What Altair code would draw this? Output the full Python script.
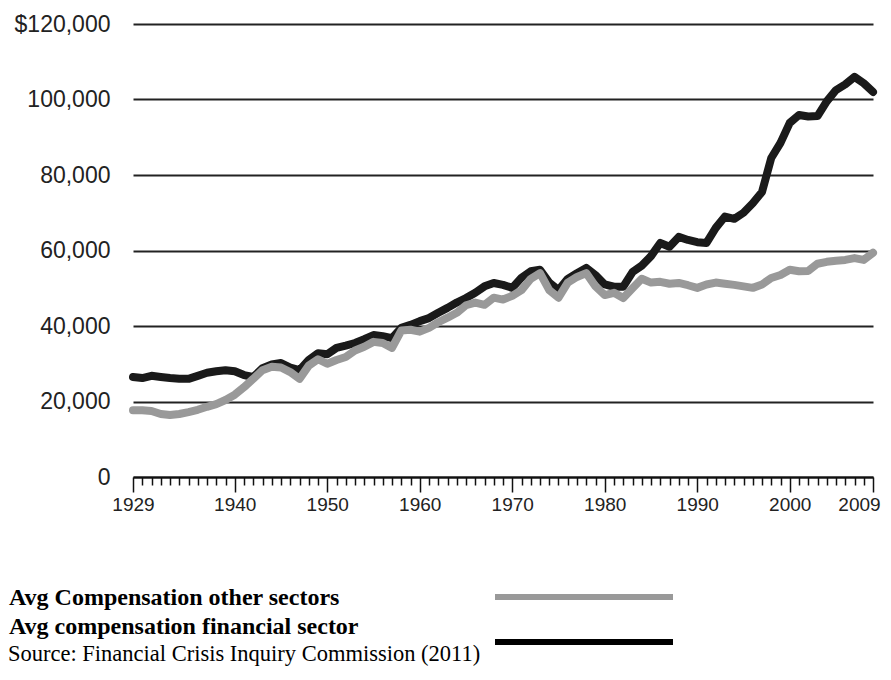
import altair as alt
import pandas as pd

years = list(range(1929, 2010))

financial = [
    26500, 26200, 26800, 26500, 26200, 26000, 26000, 26800, 27600, 28000,   # 1929-1938
    28300, 28000, 27000, 26500, 28800, 29800, 30200, 29000, 28300, 31000,   # 1939-1948
    32800, 32500, 34200, 34800, 35500, 36500, 37600, 37300, 36800, 39500,   # 1949-1958
    40300, 41300, 42100, 43500, 44800, 46200, 47400, 48800, 50500, 51400,   # 1959-1968
    50900, 50100, 52800, 54500, 54900, 51500, 49500, 52500, 54000, 55400,   # 1969-1978
    53500, 51000, 50400, 50400, 54300, 56000, 58500, 62000, 61000, 63600,   # 1979-1988
    62800, 62200, 62000, 66000, 69000, 68400, 70000, 72500, 75500, 84500,   # 1989-1998
    88500, 93800, 95900, 95500, 95600, 99500, 102500, 104000, 106000, 104300,  # 1999-2008
    102000,                                                                 # 2009
]

other = [
    17700, 17700, 17500, 16700, 16400, 16700, 17200, 17800, 18600, 19300,   # 1929-1938
    20400, 21800, 23800, 26000, 28300, 29200, 29000, 27800, 26000, 29500,   # 1939-1948
    31200, 30000, 31000, 31800, 33500, 34500, 35800, 35500, 34200, 38800,   # 1949-1958
    39000, 38500, 39500, 41000, 42200, 43500, 45500, 46200, 45600, 47500,   # 1959-1968
    47000, 48000, 49500, 52500, 54000, 49500, 47500, 51500, 53000, 54000,   # 1969-1978
    50500, 48200, 48800, 47400, 50000, 52500, 51500, 51700, 51200, 51400,   # 1979-1988
    50800, 50100, 51000, 51500, 51200, 50900, 50500, 50100, 51000, 52700,   # 1989-1998
    53500, 54900, 54500, 54600, 56500, 57000, 57300, 57500, 58000, 57500,   # 1999-2008
    59400,                                                                  # 2009
]

y_ticks = [0, 20000, 40000, 60000, 80000, 100000, 120000]
major_years = [1929, 1940, 1950, 1960, 1970, 1980, 1990, 2000, 2009]

legend_other = "Avg Compensation other sectors"
legend_fin = "Avg compensation financial sector"
source_text = "Source: Financial Crisis Inquiry Commission (2011)"

GREY = "#999999"
BLACK = "#1a1a1a"
AXIS_FONT = "Liberation Sans"
SERIF = "Liberation Serif"

df_fin = pd.DataFrame({"year": years, "value": financial})
df_oth = pd.DataFrame({"year": years, "value": other})

major_test = "indexof([" + ",".join(str(y) for y in major_years) + "], datum.value) >= 0"

x_enc = alt.X(
    "year:Q",
    scale=alt.Scale(domain=[1929, 2009], nice=False, zero=False),
    axis=alt.Axis(
        title=None,
        values=years,
        tickCount=500,
        format="d",
        labelExpr=major_test + " ? datum.label : ''",
        grid=False,
        domain=True,
        domainColor="#111111",
        domainWidth=2,
        ticks=True,
        tickColor="#111111",
        tickWidth=1.5,
        tickSize={"condition": {"test": major_test, "value": 15}, "value": 8},
        labelFont=AXIS_FONT,
        labelFontSize=19,
        labelColor="#222222",
        labelPadding=3,
        labelOffset={"condition": {"test": "datum.value == 2009", "value": -14}, "value": 0},
        labelFlush=False,
        labelOverlap=False,
    ),
)

y_enc = alt.Y(
    "value:Q",
    scale=alt.Scale(domain=[0, 120000], nice=False),
    axis=alt.Axis(
        title=None,
        values=y_ticks,
        labelExpr="datum.value == 120000 ? '$120,000' : format(datum.value, ',')",
        grid=True,
        gridColor="#222222",
        gridWidth=2,
        domain=False,
        ticks=False,
        labelFont=AXIS_FONT,
        labelFontSize=23,
        labelColor="#222222",
        labelPadding=23,
    ),
)

line_fin = alt.Chart(df_fin).mark_line(
    color=BLACK, strokeWidth=8, strokeCap="round", strokeJoin="round"
).encode(x=x_enc, y=y_enc)

line_oth = alt.Chart(df_oth).mark_line(
    color=GREY, strokeWidth=8, strokeCap="round", strokeJoin="round"
).encode(x="year:Q", y="value:Q")

def text_layer(txt, x, y, size, weight):
    return alt.Chart(pd.DataFrame({"t": [txt]})).mark_text(
        align="left", baseline="alphabetic", font=SERIF, fontSize=size,
        fontWeight=weight, color="#000000"
    ).encode(x=alt.value(x), y=alt.value(y), text="t:N")

leg1 = text_layer(legend_other, -124, 581, 24, "bold")
leg2 = text_layer(legend_fin, -124, 610, 24, "bold")
src = text_layer(source_text, -125, 637, 22.5, "normal")

rule_oth = alt.Chart(pd.DataFrame({"s": [legend_other]})).mark_rule(
    color=GREY, strokeWidth=6
).encode(x=alt.value(362), x2=alt.value(540), y=alt.value(573))

rule_fin = alt.Chart(pd.DataFrame({"s": [legend_fin]})).mark_rule(
    color="#000000", strokeWidth=6
).encode(x=alt.value(362), x2=alt.value(540), y=alt.value(618))

chart = alt.layer(
    line_fin, line_oth, leg1, leg2, src, rule_oth, rule_fin
).properties(
    width=740,
    height=453,
    autosize=alt.AutoSizeParams(type="none"),
    padding={"left": 125, "top": 16, "right": 10, "bottom": 195},
    background="white",
).configure_view(stroke=None)

chart.save("out.html", embed_options={"renderer": "svg", "actions": False})
